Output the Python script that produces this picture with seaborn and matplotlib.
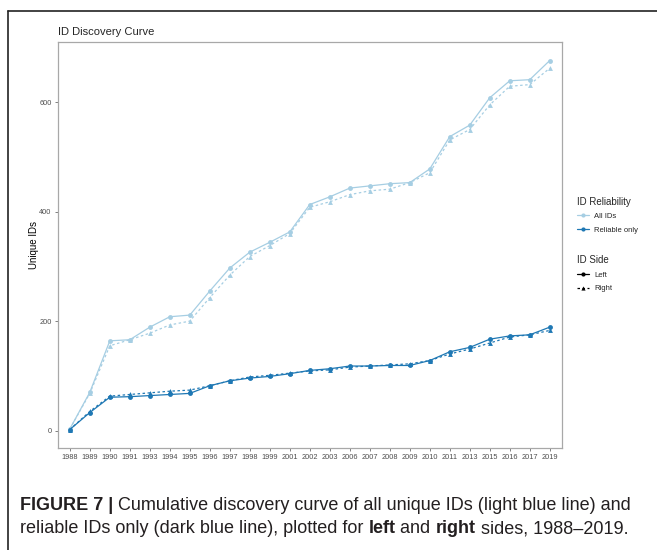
import matplotlib
matplotlib.use("Agg")
import matplotlib.pyplot as plt
from matplotlib.lines import Line2D
import pandas as pd
import seaborn as sns

years = ["1988", "1989", "1990", "1991", "1993", "1994", "1995", "1996", "1997",
         "1998", "1999", "2001", "2002", "2003", "2006", "2007", "2008", "2009",
         "2010", "2011", "2013", "2015", "2016", "2017", "2019"]

all_left = [3, 70, 164, 166, 189, 208, 211, 255, 297, 326, 344, 363, 413, 427,
            443, 447, 451, 453, 478, 537, 558, 608, 639, 641, 676]
all_right = [3, 68, 155, 166, 178, 193, 200, 243, 284, 318, 338, 360, 408, 418,
             431, 438, 441, 453, 471, 531, 550, 595, 629, 632, 662]
rel_left = [2, 33, 61, 62, 64, 66, 68, 82, 91, 96, 99, 104, 110, 113,
            118, 118, 119, 119, 128, 144, 152, 167, 173, 175, 189]
rel_right = [2, 35, 63, 66, 69, 72, 74, 82, 91, 98, 101, 105, 109, 111,
             116, 118, 120, 122, 128, 140, 149, 160, 171, 175, 183]

reliability_levels = ["All IDs", "Reliable only"]
side_levels = ["Left", "Right"]
colors = {"All IDs": "#a6cee3", "Reliable only": "#1f78b4"}
markers = {"Left": "o", "Right": "^"}
dashes = {"Left": "", "Right": (2, 2)}

series = {
    ("All IDs", "Left"): all_left,
    ("All IDs", "Right"): all_right,
    ("Reliable only", "Left"): rel_left,
    ("Reliable only", "Right"): rel_right,
}
rows = []
for (rel, side), vals in series.items():
    for yr, v in zip(years, vals):
        rows.append({"year": yr, "ids": v, "reliability": rel, "side": side})
df = pd.DataFrame(rows)

sns.set_theme(style="white")
plt.rcParams["font.family"] = ["Liberation Sans", "DejaVu Sans"]

fig = plt.figure(figsize=(6.57, 5.5), dpi=100)
ax = fig.add_axes([0.088, 0.1855, 0.767, 0.738])

sns.lineplot(data=df, x="year", y="ids", hue="reliability", style="side",
             palette=colors, markers=markers, dashes=dashes, legend=False,
             linewidth=0.9, markersize=3.5, markeredgewidth=0, ax=ax)

ax.set_xlim(-0.6, len(years) - 1 + 0.6)
ax.set_ylim(-31.7, 709.7)
ax.set_yticks([0, 200, 400, 600])
ax.set_xlabel("")
ax.set_ylabel("Unique IDs", fontsize=7, color="black", labelpad=0)
ax.tick_params(axis="both", labelsize=5.3, colors="#4d4d4d", length=2.5,
               width=0.5, pad=2, left=True, bottom=True)
for sp in ax.spines.values():
    sp.set_color("#a8a8a8")
    sp.set_linewidth(0.9)
ax.set_title("ID Discovery Curve", loc="left", fontsize=8, pad=5)

rel_handles = [Line2D([], [], color=colors[r], marker="o", markersize=3,
                      markeredgewidth=0, linewidth=0.9) for r in reliability_levels]
fig.legend(rel_handles, reliability_levels, title="ID Reliability",
           loc="upper left", bbox_to_anchor=(0.868, 0.655), frameon=False,
           fontsize=5.5, title_fontsize=7, handlelength=1.5, handletextpad=0.7,
           labelspacing=0.8, alignment="left")
side_handles = [Line2D([], [], color="black", marker=markers[s], markersize=3,
                       markeredgewidth=0, linewidth=0.9,
                       linestyle="-" if s == "Left" else (0, (2, 2)))
                for s in side_levels]
fig.legend(side_handles, side_levels, title="ID Side",
           loc="upper left", bbox_to_anchor=(0.868, 0.548), frameon=False,
           fontsize=5.5, title_fontsize=7, handlelength=1.5, handletextpad=0.7,
           labelspacing=0.8, alignment="left")

# frame lines of the figure panel
fig.add_artist(Line2D([8 / 657, 1], [1 - 11 / 550, 1 - 11 / 550],
                      transform=fig.transFigure, color="#222222", linewidth=1.2))
fig.add_artist(Line2D([8 / 657, 8 / 657], [1 - 11 / 550, 0],
                      transform=fig.transFigure, color="#222222", linewidth=1.2))

# caption with mixed weights
fig.canvas.draw()
renderer = fig.canvas.get_renderer()
cap_size = 13.0
lines = [
    [("FIGURE 7 | ", "bold"),
     ("Cumulative discovery curve of all unique IDs (light blue line) and", "normal")],
    [("reliable IDs only (dark blue line), plotted for ", "normal"), ("left", "bold"),
     (" and ", "normal"), ("right", "bold"), (" sides, 1988\u20132019.", "normal")],
]
y_pos = [1 - 510 / 550, 1 - 533 / 550]
for parts, yy in zip(lines, y_pos):
    x = 20 / 657
    for txt, wt in parts:
        t = fig.text(x, yy, txt, fontsize=cap_size, fontweight=wt, color="#231f20",
                     va="baseline", ha="left")
        bb = t.get_window_extent(renderer=renderer)
        x += bb.width / fig.bbox.width

fig.savefig("out.png", dpi=100)
